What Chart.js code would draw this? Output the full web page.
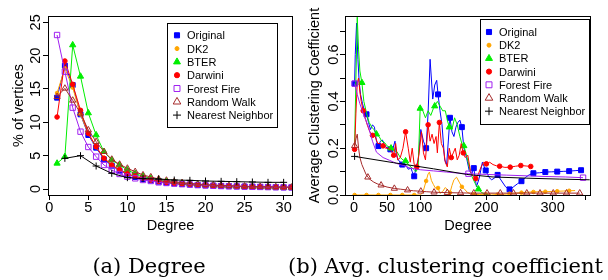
<!DOCTYPE html>
<html><head><meta charset="utf-8">
<script src="https://cdn.jsdelivr.net/npm/chart.js@4.4.1/dist/chart.umd.min.js"></script>
<style>
html,body{margin:0;padding:0;background:#fff;width:608px;height:280px;overflow:hidden}
.pane{position:absolute;top:0}
</style></head><body>
<div class="pane" style="left:0;width:300px;height:280px"><canvas id="c1" width="300" height="280" style="width:300px;height:280px"></canvas></div>
<div class="pane" style="left:240px;width:368px;height:280px"><canvas id="c2" width="368" height="280" style="width:368px;height:280px"></canvas></div>
<script>
// ================= DATA =================
const seriesNames = ['Original','DK2','BTER','Darwini','Forest Fire','Random Walk','Nearest Neighbor'];

// ---- Panel (a): % of vertices vs degree ----
const degreeA = [1,2,3,4,5,6,7,8,9,10,11,12,13,14,15,16,17,18,19,20,21,22,23,24,25,26,27,28,29,30,31];
const origPct    = [13.7,18.5,15.6,11.2,8.1,6.2,4.45,3.5,2.75,2.2,1.8,1.5,1.3,1.1,0.95,0.85,0.75,0.67,0.6,0.55,0.5,0.46,0.42,0.39,0.36,0.33,0.31,0.29,0.27,0.25,0.24];
const dk2Pct     = [14.4,18.1,15.2,11.2,8.3,6.3,4.7,3.6,2.85,2.25,1.85,1.55,1.3,1.12,0.97,0.86,0.76,0.68,0.61,0.55,0.5,0.46,0.42,0.39,0.36,0.34,0.31,0.29,0.27,0.26,0.24];
const bterPct    = [3.85,4.85,21.6,16.9,11.4,8.1,5.6,4.35,3.6,2.85,2.3,1.9,1.6,1.35,1.15,1.0,0.87,0.76,0.67,0.6,0.54,0.49,0.44,0.4,0.37,0.34,0.31,0.29,0.27,0.25,0.23];
const darwiniPct = [10.8,19.2,15.7,11.8,8.35,6.35,4.6,3.6,2.9,2.3,1.9,1.6,1.35,1.15,1.0,0.88,0.78,0.7,0.62,0.56,0.51,0.47,0.43,0.4,0.37,0.34,0.32,0.3,0.28,0.26,0.25];
const ffPct      = [23.1,17.6,12.2,8.6,6.3,4.85,3.6,2.85,2.25,1.85,1.6,1.35,1.2,1.0,0.9,0.8,0.72,0.65,0.58,0.53,0.48,0.44,0.41,0.38,0.35,0.33,0.31,0.29,0.27,0.25,0.24];
const rwPct      = [13.85,15.1,13.3,11.35,8.85,7.1,5.6,4.45,3.7,3.1,2.6,2.1,1.8,1.5,1.3,1.1,0.95,0.85,0.75,0.67,0.6,0.54,0.49,0.45,0.41,0.38,0.35,0.32,0.3,0.28,0.26];
const nnDegreeA  = [2,4,6,8,10,12,14,16,18,20,22,24,26,28,30];
const nnPct      = [4.6,5.0,3.45,2.35,1.7,1.55,1.5,1.35,1.3,1.2,1.15,1.1,1.05,1.0,1.0];
const xTicksA = [0,5,10,15,20,25,30];
const xLabelsA = ['0','5','10','15','20','25','30'];
const yTicksA = [0,5,10,15,20,25];
const yLabelsA = ['0','5','10','15','20','25'];

// ---- Panel (b): average clustering coefficient vs degree ----
const origDegB = [1,2,4,6,8,10,13,16,19,22,25,28,31,34,37,40,43,46,50,55,59,62,64,67,70,73,76,79,82,86,88,91,94,97,101,105,109,112,115,119,122,125,127,130,133,137,140,145,148,151,154,157,160,163,166,170,174,178,181,185,189,194,199,204,208,212,217,223,229,235,241,247,253,259,265,271,280,289,298,307,316,325,334,343];
const origCC   = [.476,.60,.735,.58,.48,.43,.39,.36,.345,.31,.28,.30,.29,.23,.209,.23,.235,.215,.20,.195,.20,.23,.17,.15,.14,.13,.13,.125,.11,.115,.10,.08,.12,.15,.28,.23,.20,.35,.58,.41,.47,.49,.43,.36,.30,.15,.13,.33,.27,.25,.29,.31,.32,.29,.20,.16,.105,.09,.115,.035,.07,.14,.105,.075,.065,.072,.086,.06,.035,.024,.035,.048,.059,.075,.087,.093,.095,.098,.099,.10,.101,.102,.104,.106];
const origMarksB = [1,19,37,55,73,91,109,127,145,163,181,199,217,235,253,271,289,307,325,343];

const dk2DegB = [1,19,37,55,73,91,100,104,109,112,114,117,120,123,127,130,134,138,142,145,148,151,155,159,163,167,171,176,181,190,199,208,217,226,235,244,253,262,271,280,289,298,307,316,325,334];
const dk2CC   = [0,0,0,0,0,0,0,.01,.06,.09,.098,.062,.045,.03,.03,.007,.015,.032,.02,.01,.04,.065,.076,.055,.035,.025,.012,.005,.003,.002,.003,.004,.002,.003,.005,.008,.01,.012,.013,.014,.014,.015,.016,.017,.018,.019];
const dk2MarksB = [1,19,37,55,73,91,109,127,145,163,181,199,217,235,253,271,289,307,325];

const bterDegB = [1,3,5,7,9,12,15,19,23,27,30,34,38,42,46,50,56,60,65,70,74,78,82,86,90,94,97,100,104,108,112,116,120,122,126,130,134,138,141,144,148,152,156,160,163,166,170,174,178,183,188,193,198,203];
const bterCC   = [.21,.50,.76,.62,.53,.48,.40,.35,.31,.29,.28,.26,.25,.23,.225,.21,.20,.19,.185,.16,.15,.145,.13,.12,.11,.10,.12,.37,.36,.33,.36,.34,.37,.38,.40,.38,.36,.36,.32,.29,.28,.33,.30,.25,.22,.21,.17,.12,.08,.05,.025,.01,.005,0];
const bterMarksB = [12,34,56,78,100,122,144,166,188];

const darwiniDegB = [1,3,5,7,9,11,14,17,20,24,28,32,36,40,44,48,52,56,60,63,66,70,74,78,82,85,88,91,95,98,102,105,108,112,115,118,121,124,126,129,132,135,138,141,144,147,150,153,156,159,162,165,168,172,176,180,184,188,192,196,200,205,210,215,220,228,236,244,252,260,267];
const darwiniCC   = [.195,.35,.48,.50,.44,.40,.36,.33,.30,.27,.255,.25,.22,.22,.21,.20,.20,.19,.17,.22,.15,.16,.20,.27,.20,.14,.20,.13,.12,.17,.27,.18,.15,.30,.23,.26,.22,.25,.18,.31,.22,.20,.14,.12,.20,.16,.18,.20,.15,.17,.22,.18,.16,.17,.10,.08,.07,.09,.12,.14,.133,.14,.13,.125,.123,.118,.119,.123,.126,.124,.122];
const darwiniMarksB = [1,14,28,44,60,78,95,112,129,147,165,184,200,220,236,252,267];

const ffDegB = [1,5,9,15,22,28,34,44,54,64,75,85,92,100,120,140,160,173,200,230,260,290,320,346];
const ffCC   = [.476,.43,.39,.34,.29,.23,.183,.16,.148,.135,.126,.115,.112,.108,.103,.098,.093,.091,.088,.085,.082,.079,.077,.074];
const ffMarksB = [1,173,346];

const rwDegB = [1,3,5,7,9,12,15,18,21,25,30,35,41,50,61,70,81,90,101,110,121,141,161,181,201,221,241,261,281,301,321,341];
const rwCC   = [.21,.24,.26,.20,.16,.13,.11,.09,.076,.065,.055,.048,.042,.034,.028,.025,.021,.018,.016,.014,.012,.010,.009,.008,.008,.008,.008,.008,.008,.008,.008,.008];
const rwMarksB = [1,21,41,61,81,101,121,141,161,181,201,221,241,261,281,301,321,341];

const nnDegB = [1,60,120,170,210,260,310,356];
const nnCC   = [.165,.138,.112,.088,.077,.072,.068,.065];
const nnMarksB = [1];

const xTicksB = [0,50,100,150,200,250,300,350];
const xLabelsB = ['0','50','100','','200','','300',''];
const yTicksB = [0,0.1,0.2,0.3,0.4,0.5,0.6,0.7];
const yLabelsB = ['0.0','','0.2','','0.4','','0.6',''];

// ================= STYLES =================
const seriesStyles = [
  {color:'#0000FF', style:'rect',     filled:true,  r:3.5, lr:3.6},
  {color:'#FFA500', style:'circle',   filled:true,  r:1.8, lr:2.0},
  {color:'#00EE00', style:'triangle', filled:true,  r:3.6, lr:4.0},
  {color:'#FF0000', style:'circle',   filled:true,  r:2.3, lr:2.6},
  {color:'#A020F0', style:'rect',     filled:false, r:3.8, lr:4.2},
  {color:'#A52A2A', style:'triangle', filled:false, r:3.6, lr:4.4},
  {color:'#000000', style:'cross',    filled:false, r:3.5, lr:4.0}
];
const SANS = '"Liberation Sans", Arial, Helvetica, sans-serif';

function makeDataset(i, xs, ys, marks) {
  const st = seriesStyles[i];
  const fillC = st.filled ? st.color : 'rgba(0,0,0,0)';
  return {
    label: seriesNames[i],
    data: xs.map((x, k) => ({x: x, y: ys[k]})),
    borderColor: st.color, backgroundColor: fillC,
    borderWidth: 1, tension: 0, fill: false,
    pointStyle: st.style,
    pointRadius: marks ? (c => (c.raw && marks.includes(c.raw.x)) ? st.r : 0) : st.r,
    pointBorderColor: st.color, pointBackgroundColor: fillC, pointBorderWidth: 1,
    order: 10 - i
  };
}

function drawMark(ctx, st, x, y, r) {
  ctx.beginPath();
  if (st.style === 'rect') { const s = r * Math.SQRT1_2; ctx.rect(x - s, y - s, 2 * s, 2 * s); }
  else if (st.style === 'circle') { ctx.arc(x, y, r, 0, 2 * Math.PI); }
  else if (st.style === 'triangle') {
    for (let k = 0; k < 3; k++) { const a = k * 2 * Math.PI / 3; const px = x + Math.sin(a) * r, py = y - Math.cos(a) * r; if (k) ctx.lineTo(px, py); else ctx.moveTo(px, py); }
    ctx.closePath();
  } else if (st.style === 'cross') { ctx.moveTo(x, y - r); ctx.lineTo(x, y + r); ctx.moveTo(x - r, y); ctx.lineTo(x + r, y); }
  if (st.filled) { ctx.fillStyle = st.color; ctx.fill(); }
  ctx.strokeStyle = st.color; ctx.lineWidth = 1; ctx.stroke();
}

function rPlugin(L) {
  return {
    id: 'rstyle',
    afterDraw(chart) {
      const ctx = chart.ctx, a = chart.chartArea, xs = chart.scales.x, ys = chart.scales.y;
      ctx.save();
      // plot box
      ctx.strokeStyle = '#000'; ctx.lineWidth = 1;
      ctx.strokeRect(Math.round(a.left) + 0.5, Math.round(a.top) + 0.5, Math.round(a.right - a.left) - 1, Math.round(a.bottom - a.top));
      ctx.fillStyle = '#000';
      ctx.font = '14.5px ' + SANS;
      // x tick labels
      ctx.textAlign = 'center'; ctx.textBaseline = 'alphabetic';
      L.xTicks.forEach((v, i) => { if (L.xLabels[i]) ctx.fillText(L.xLabels[i], xs.getPixelForValue(v), L.xLabelBase); });
      // y tick labels (rotated, R style)
      L.yTicks.forEach((v, i) => {
        if (!L.yLabels[i]) return;
        ctx.save(); ctx.translate(L.yLabelBase, ys.getPixelForValue(v)); ctx.rotate(-Math.PI / 2);
        ctx.fillText(L.yLabels[i], 0, 0); ctx.restore();
      });
      // axis titles
      ctx.fillText(L.xTitle, (a.left + a.right) / 2, L.xTitleBase);
      ctx.save(); ctx.translate(L.yTitleBase, (a.top + a.bottom) / 2); ctx.rotate(-Math.PI / 2);
      ctx.fillText(L.yTitle, 0, 0); ctx.restore();
      // legend
      const g = L.legend;
      ctx.strokeStyle = '#000'; ctx.lineWidth = 1;
      ctx.strokeRect(g.x + 0.5, g.y + 0.5, g.w, g.h);
      ctx.font = '11px ' + SANS; ctx.textAlign = 'left';
      seriesNames.forEach((n, i) => {
        const yy = g.row0 + i * g.dy;
        drawMark(ctx, seriesStyles[i], g.sx, yy, seriesStyles[i].lr);
        ctx.fillStyle = '#000';
        ctx.fillText(n, g.tx, yy + 4);
      });
      // caption
      ctx.font = '21px "DejaVu Serif", "Liberation Serif", serif';
      ctx.textAlign = 'center';
      ctx.fillText(L.caption, L.capX, L.capBase);
      ctx.restore();
    }
  };
}

function axisCfg(min, max, ticks, fitKey, fitVal) {
  return {
    type: 'linear', min: min, max: max, bounds: 'data',
    afterBuildTicks: s => { s.ticks = ticks.map(v => ({value: v})); },
    afterFit: s => { s[fitKey] = fitVal; },
    ticks: {display: false},
    grid: {display: true, drawOnChartArea: false, drawTicks: true, tickLength: 5, color: '#000', lineWidth: 1},
    border: {display: false}
  };
}

function makeChart(id, datasets, xr, yr, L, pad, yW) {
  return new Chart(document.getElementById(id), {
    type: 'line',
    data: {datasets: datasets},
    options: {
      responsive: false, animation: false, devicePixelRatio: 1, events: [],
      layout: {padding: pad},
      plugins: {legend: {display: false}, tooltip: {enabled: false}},
      scales: {
        x: axisCfg(xr[0], xr[1], L.xTicks, 'height', 85),
        y: axisCfg(yr[0], yr[1], L.yTicks, 'width', yW)
      }
    },
    plugins: [rPlugin(L)]
  });
}

// ---- Panel (a) ----
makeChart('c1', [
  makeDataset(0, degreeA, origPct),
  makeDataset(1, degreeA, dk2Pct),
  makeDataset(2, degreeA, bterPct),
  makeDataset(3, degreeA, darwiniPct),
  makeDataset(4, degreeA, ffPct),
  makeDataset(5, degreeA, rwPct),
  makeDataset(6, nnDegreeA, nnPct)
], [-0.16, 31.2], [-0.9, 25.95], {
  xTicks: xTicksA, xLabels: xLabelsA, yTicks: yTicksA, yLabels: yLabelsA,
  xLabelBase: 212, yLabelBase: 40, xTitle: 'Degree', xTitleBase: 230,
  yTitle: '% of vertices', yTitleBase: 23,
  legend: {x: 167, y: 23, w: 110, h: 104, row0: 35.3, dy: 13.3, sx: 177, tx: 187},
  caption: '(a) Degree', capX: 149, capBase: 273
}, {left: 0, top: 16, right: 7, bottom: 0}, 48);

// ---- Panel (b) ----
makeChart('c2', [
  makeDataset(0, origDegB, origCC, origMarksB),
  makeDataset(1, dk2DegB, dk2CC, dk2MarksB),
  makeDataset(2, bterDegB, bterCC, bterMarksB),
  makeDataset(3, darwiniDegB, darwiniCC, darwiniMarksB),
  makeDataset(4, ffDegB, ffCC, ffMarksB),
  makeDataset(5, rwDegB, rwCC, rwMarksB),
  makeDataset(6, nnDegB, nnCC, nnMarksB)
], [-13.5, 358], [0, 0.765], {
  xTicks: xTicksB, xLabels: xLabelsB, yTicks: yTicksB, yLabels: yLabelsB,
  xLabelBase: 212, yLabelBase: 98, xTitle: 'Degree', xTitleBase: 230,
  yTitle: 'Average Clustering Coefficient', yTitleBase: 79,
  legend: {x: 240, y: 19, w: 109, h: 105, row0: 32, dy: 13.2, sx: 249, tx: 259},
  caption: '(b) Avg. clustering coefficient', capX: 205.5, capBase: 273
}, {left: 0, top: 16, right: 17, bottom: 0}, 105);
</script>
</body></html>
